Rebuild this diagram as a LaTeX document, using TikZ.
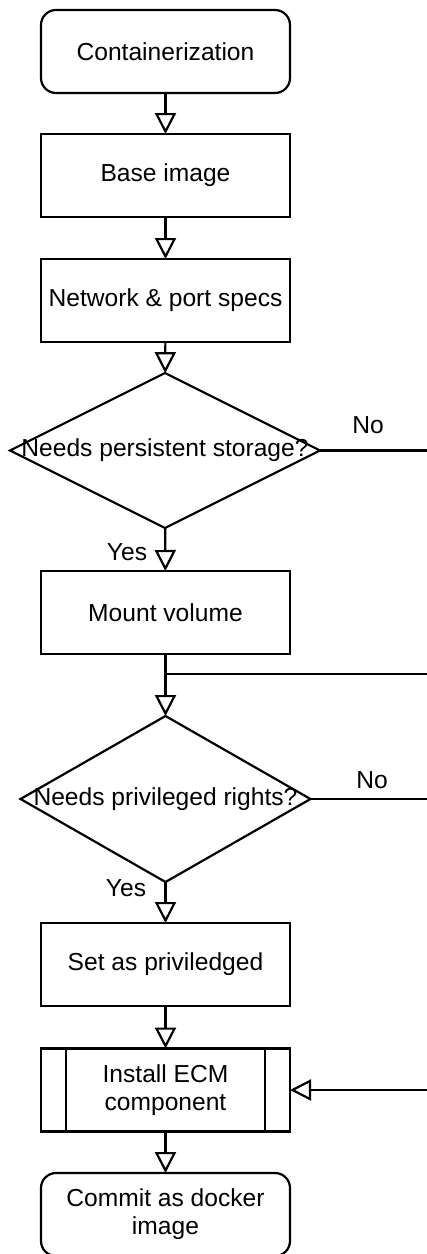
\documentclass[tikz,border=0pt]{standalone}
\usepackage{fontspec}
\setmainfont{Liberation Sans}
\usetikzlibrary{arrows.meta, shapes.geometric}

\begin{document}
\begin{tikzpicture}[x=0.5pt,y=-0.5pt,
  font=\fontsize{12.3}{14}\selectfont,
  every node/.style={inner sep=0pt,outer sep=0pt},
  box/.style={draw,line width=1.1pt,minimum width=124.5pt,minimum height=41.5pt,align=center},
  term/.style={box,rounded corners=7.5pt},
  decision/.style={draw,line width=1.1pt,diamond},
  flow/.style={line width=1.1pt,-{Triangle[open,fill=white,length=10.5pt,width=10.5pt]}},
  link/.style={line width=1.1pt}]
  \useasboundingbox (0,0) rectangle (427,1254);
  % main column
  \node[term] (cont) at (165.5,51.5) {Containerization};
  \node[box] (base) at (165.5,175.5) {Base image};
  \node[box] (net) at (165.5,300.5) {Network \& port specs};
  \node[decision,minimum width=155pt,minimum height=77.5pt] (store) at (165,450.5) {\makebox[0pt]{Needs persistent storage?}};
  \node[box] (mount) at (165.5,612.5) {Mount volume};
  \node[decision,minimum width=145pt,minimum height=83pt] (priv) at (165.5,799) {\makebox[0pt]{Needs privileged rights?}};
  \node[box] (setpriv) at (165.5,964.5) {Set as priviledged};
  \node[box] (ecm) at (165.5,1090) {Install ECM\\component};
  \draw[line width=1.1pt] ([xshift=12.5pt]ecm.north west) -- ([xshift=12.5pt]ecm.south west);
  \draw[line width=1.1pt] ([xshift=-12.5pt]ecm.north east) -- ([xshift=-12.5pt]ecm.south east);
  \node[term] (commit) at (165.5,1214.5) {Commit as docker\\image};
  % branch labels
  \node (no1) at (368,425) {No};
  \node (yes1) at (127,552) {Yes};
  \node (no2) at (372,780) {No};
  \node (yes2) at (126,888) {Yes};
  % loose ends on the right
  \coordinate (r1) at (432,450.5);
  \coordinate (j) at (165.5,674);
  \coordinate (r2) at (432,674);
  \coordinate (r3) at (432,799);
  \coordinate (r4) at (432,1090);
  \draw[flow] (cont) -- (base);
  \draw[flow] (base) -- (net);
  \draw[flow] (net) -- (store);
  \draw[flow] (store) -- (mount);
  \draw[flow] (mount) -- (priv);
  \draw[flow] (priv) -- (setpriv);
  \draw[flow] (setpriv) -- (ecm);
  \draw[flow] (ecm) -- (commit);
  \draw[link] (store) -- (r1);
  \draw[link] (j) -- (r2);
  \draw[link] (priv) -- (r3);
  \draw[flow] (r4) -- (ecm);
\end{tikzpicture}
\end{document}
